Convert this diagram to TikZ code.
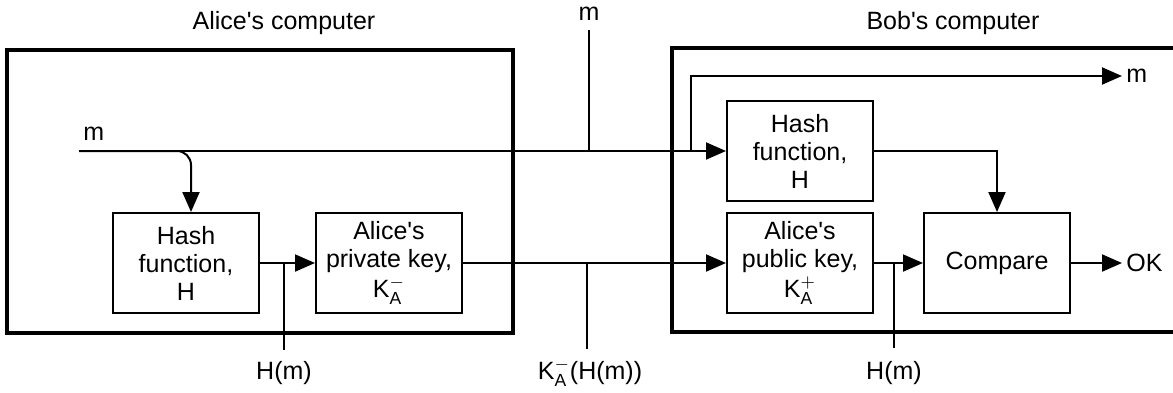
\documentclass[tikz,border=0pt]{standalone}
\usepackage{amsmath}
\usepackage{fontspec}
\setmainfont{Liberation Sans}
\usetikzlibrary{arrows.meta}

\begin{document}
\begin{tikzpicture}[x=0.5pt, y=-0.5pt,
	every node/.style={font=\fontsize{12.5}{14}\selectfont},
	pcbox/.style={draw, line width=1.6pt},
	funcbox/.style={draw, line width=1pt, minimum width=73pt, minimum height=50pt, align=center, inner sep=0pt},
	flow/.style={line width=1pt},
	flowarrow/.style={flow, -{Triangle[length=10pt, width=8.5pt]}},
	tag/.style={inner sep=0pt, anchor=base}]
	\useasboundingbox (0,0) rectangle (1173,392);

	\draw[pcbox] (7,50) rectangle (513,333);
	\draw[pcbox] (1173,48) -- (672,48) -- (672,332) -- (1173,332);
	\node at (284,23) {Alice\textquotesingle s computer};
	\node at (953,23) {Bob\textquotesingle s computer};

	\node[funcbox] (hashA) at (186,263) {Hash\\function,\\H};
	\node[funcbox] (privA) at (389,263) {Alice\textquotesingle s\\private key,\\[1pt]K$_{\text{A}}^{-}$};
	\node[funcbox] (hashB) at (800,151) {Hash\\function,\\H};
	\node[funcbox] (pubB) at (800,263) {Alice\textquotesingle s\\public key,\\[1pt]K$_{\text{A}}^{+}$};
	\node[funcbox] (cmp) at (997,263) {Compare};

	\coordinate (mstart) at (79,151);
	\node[anchor=south west, inner xsep=2pt, inner ysep=5pt] (minA) at (mstart) {m};
	\draw[flowarrow] (mstart) -- (hashB.west);
	\draw[flowarrow, rounded corners=7pt] (mstart) -| ([xshift=2.5pt]hashA.north);

	\node (mtop) at (589,14) {m};
	\coordinate (mtopend) at (589,30);
	\draw[flow] (mtopend) -- (mtopend |- mstart);

	\coordinate (msplit) at (691,151);
	\node[anchor=west, inner sep=2pt] (mout) at (1122,76) {m};
	\draw[flowarrow] (msplit) |- (mout.west);

	\draw[flowarrow] (hashA) -- (privA);
	\draw[flowarrow] (privA) -- (pubB);
	\draw[flowarrow] (pubB) -- (cmp);
	\draw[flowarrow] (hashB.east) -| (cmp.north);
	\node[anchor=west, inner sep=2pt] (ok) at (1122,263) {OK};
	\draw[flowarrow] (cmp) -- (ok);

	\coordinate (tapA) at (284,350);
	\draw[flow] (hashA.east -| tapA) -- (tapA);
	\node[tag] (hmA) at (284,379) {H(m)};
	\coordinate (tapS) at (587,349);
	\draw[flow] (privA.east -| tapS) -- (tapS);
	\node[tag] (sig) at (590,379) {K$_{\text{A}}^{-}$(H(m))};
	\coordinate (tapB) at (894,348);
	\draw[flow] (pubB.east -| tapB) -- (tapB);
	\node[tag] (hmB) at (894,379) {H(m)};
\end{tikzpicture}
\end{document}
